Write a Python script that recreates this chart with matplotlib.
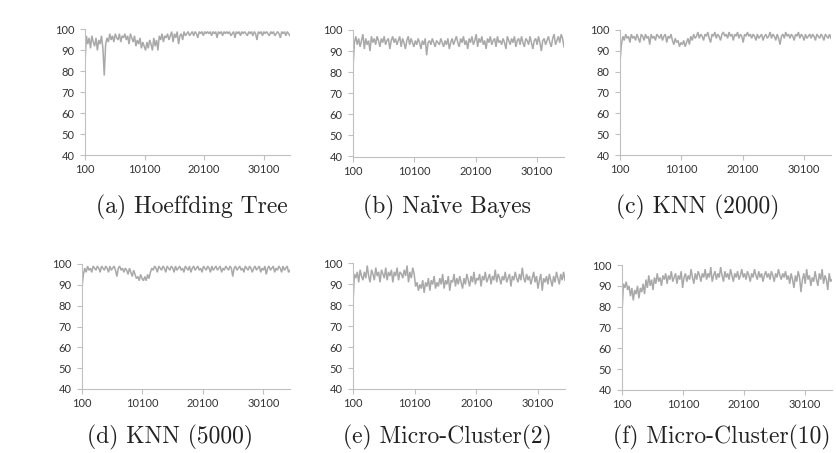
import numpy as np
import matplotlib
matplotlib.use("Agg")
import matplotlib.pyplot as plt

# ---------------- data ----------------
x_start = 100
x_end = 34500
x_ticks = [100, 10100, 20100, 30100]
y_ticks = [40, 50, 60, 70, 80, 90, 100]

titles = ["(a) Hoeffding Tree", "(b) Na\u00efve Bayes", "(c) KNN (2000)",
          "(d) KNN (5000)", "(e) Micro-Cluster(2)", "(f) Micro-Cluster(10)"]

hoeffding = [84, 97, 93, 96, 91, 97, 94, 92, 96, 90, 95, 93, 97, 91, 78,
             93, 96, 94, 98, 95, 97, 94, 98, 96, 95, 98, 94, 97, 96, 98,
             95, 97, 93, 98, 96, 94, 97, 92, 95, 93, 96, 91, 94, 92, 90,
             94, 91, 95, 93, 90, 96, 92, 95, 90, 97, 95, 98, 94, 97, 96,
             98, 95, 97, 99, 94, 98, 96, 99, 93, 97, 98, 95, 99, 97, 98,
             99, 97, 98, 99, 97, 99, 98, 96, 99, 98, 99, 97, 99, 98, 99,
             98, 99, 97, 99, 98, 99, 96, 99, 98, 99, 97, 99, 98, 99, 98,
             99, 97, 98, 99, 96, 99, 98, 99, 97, 99, 98, 99, 98, 97, 99,
             98, 99, 97, 99, 98, 95, 99, 98, 99, 97, 99, 98, 99, 98, 97,
             99, 98, 99, 97, 98, 99, 98, 96, 99, 98, 99, 97, 99, 98, 97]

naive_bayes = [82, 94, 97, 93, 96, 92, 95, 98, 91, 96, 93, 95, 90, 97, 94,
               96, 93, 97, 95, 92, 96, 94, 97, 93, 95, 96, 91, 95, 97, 94,
               96, 93, 95, 97, 92, 96, 94, 91, 95, 97, 93, 96, 94, 92, 95,
               93, 96, 94, 91, 95, 93, 96, 88, 94, 95, 93, 96, 94, 92, 95,
               94, 93, 96, 94, 92, 95, 93, 96, 91, 94, 96, 93, 95, 97, 94,
               92, 96, 94, 97, 93, 95, 91, 96, 94, 97, 93, 95, 98, 92, 96,
               94, 97, 93, 95, 91, 96, 94, 97, 93, 95, 96, 92, 97, 94, 95,
               93, 96, 94, 91, 97, 95, 93, 96, 94, 97, 92, 95, 96, 93, 97,
               94, 92, 96, 95, 93, 97, 94, 91, 95, 96, 93, 97, 94, 90, 95,
               96, 93, 95, 97, 94, 92, 96, 98, 93, 95, 97, 94, 98, 96, 92]

knn_2000 = [85, 93, 97, 95, 98, 96, 97, 94, 98, 96, 97, 95, 98, 96, 94,
            98, 97, 95, 98, 96, 97, 93, 98, 96, 97, 95, 98, 97, 96, 98,
            95, 97, 98, 94, 97, 96, 98, 95, 93, 96, 94, 95, 92, 94, 93,
            95, 92, 94, 96, 93, 97, 95, 98, 96, 97, 99, 96, 98, 97, 95,
            98, 97, 99, 96, 94, 98, 97, 99, 96, 98, 97, 95, 98, 99, 97,
            98, 96, 99, 97, 98, 95, 98, 97, 99, 96, 98, 97, 94, 98, 97,
            99, 97, 98, 96, 98, 97, 95, 98, 96, 97, 98, 95, 97, 98, 96,
            97, 99, 96, 98, 97, 95, 98, 96, 93, 97, 98, 96, 99, 97, 98,
            96, 98, 97, 95, 98, 97, 99, 96, 98, 97, 95, 98, 96, 97, 98,
            96, 98, 97, 95, 98, 97, 96, 98, 97, 95, 98, 97, 96, 98, 96]

knn_5000 = [89, 95, 98, 96, 99, 97, 98, 96, 99, 98, 97, 99, 98, 96, 99,
            98, 97, 99, 98, 96, 99, 97, 98, 99, 97, 94, 98, 99, 97, 98,
            96, 98, 97, 95, 98, 96, 94, 97, 95, 93, 94, 92, 95, 93, 92,
            94, 92, 95, 93, 96, 98, 97, 99, 98, 96, 99, 98, 97, 99, 98,
            96, 99, 98, 97, 99, 98, 96, 99, 97, 98, 99, 97, 98, 96, 99,
            98, 97, 99, 96, 98, 99, 97, 98, 99, 97, 98, 96, 99, 98, 97,
            99, 98, 96, 99, 97, 98, 99, 97, 98, 99, 96, 98, 97, 99, 98,
            97, 99, 98, 94, 98, 99, 97, 98, 99, 97, 98, 96, 99, 98, 97,
            99, 98, 96, 98, 99, 97, 98, 99, 96, 98, 97, 99, 95, 98, 99,
            97, 98, 99, 96, 98, 97, 99, 98, 96, 99, 97, 98, 99, 96, 97]

micro_cluster_2 = [81, 95, 93, 96, 91, 97, 94, 92, 96, 93, 99, 94, 91, 97, 95,
                   92, 98, 94, 96, 91, 97, 95, 93, 98, 92, 96, 94, 97, 91, 96,
                   94, 98, 92, 96, 95, 93, 97, 94, 99, 91, 96, 93, 98, 95, 89,
                   91, 87, 90, 88, 92, 86, 91, 89, 93, 87, 92, 90, 94, 88, 91,
                   89, 93, 90, 95, 88, 92, 90, 94, 87, 92, 91, 95, 89, 93, 90,
                   94, 91, 88, 93, 90, 95, 92, 89, 94, 91, 96, 90, 93, 92, 95,
                   89, 94, 92, 96, 91, 93, 95, 90, 94, 92, 97, 91, 95, 93, 90,
                   94, 92, 96, 91, 93, 95, 89, 94, 92, 96, 93, 91, 95, 92, 98,
                   93, 91, 95, 92, 94, 90, 93, 96, 91, 94, 88, 92, 95, 87, 93,
                   91, 94, 90, 95, 92, 89, 94, 91, 96, 93, 90, 95, 92, 96, 92]

micro_cluster_10 = [77, 91, 89, 92, 88, 90, 85, 89, 83, 88, 86, 90, 84, 89, 87,
                    91, 86, 93, 89, 95, 90, 93, 88, 94, 91, 96, 92, 94, 90, 95,
                    93, 96, 91, 95, 93, 97, 92, 94, 96, 91, 95, 93, 97, 89, 94,
                    96, 92, 95, 93, 98, 94, 91, 96, 93, 97, 95, 92, 96, 94, 98,
                    93, 96, 94, 99, 92, 95, 97, 93, 96, 94, 99, 95, 92, 97, 94,
                    96, 93, 98, 95, 92, 96, 94, 97, 93, 95, 98, 94, 96, 93, 97,
                    95, 92, 96, 94, 98, 95, 93, 97, 94, 96, 92, 95, 97, 94, 96,
                    93, 97, 95, 92, 96, 94, 98, 95, 93, 96, 94, 97, 93, 95, 91,
                    96, 93, 89, 95, 92, 97, 94, 87, 93, 96, 91, 98, 93, 95, 90,
                    94, 92, 97, 93, 90, 96, 93, 98, 91, 95, 93, 88, 96, 92, 93]

series = [hoeffding, naive_bayes, knn_2000, knn_5000, micro_cluster_2, micro_cluster_10]

# ---------------- layout ----------------
W, H = 836, 453
# axes boxes in pixels: left, right, top, bottom
boxes = [(85, 290, 29.5, 155), (353, 564, 30, 156.5), (620, 831, 30, 155),
         (82, 290, 264, 389), (353, 565, 263.5, 389), (622, 832, 265, 390)]
caption_xy = [(192, 207), (447, 207), (698, 207), (170, 437), (447, 437), (722, 437)]

fig = plt.figure(figsize=(W / 100, H / 100), dpi=100)
fig.patch.set_facecolor("white")

axis_col = "#c0c0c0"
line_col = "#a9a9a9"
label_col = "#333333"

for (l, r, t, b), vals, title, (cx, cy) in zip(boxes, series, titles, caption_xy):
    ax = fig.add_axes([l / W, 1 - b / H, (r - l) / W, (b - t) / H])
    xs = np.linspace(x_start, x_end, len(vals))
    ax.plot(xs, vals, color=line_col, lw=1.1, solid_joinstyle="miter")
    ax.set_xlim(x_start, x_end)
    ax.set_ylim(40, 100)
    ax.set_xticks(x_ticks)
    ax.set_yticks(y_ticks)
    ax.set_xticklabels([str(v) for v in x_ticks])
    ax.set_yticklabels([str(v) for v in y_ticks])
    for s in ["top", "right"]:
        ax.spines[s].set_visible(False)
    for s in ["left", "bottom"]:
        ax.spines[s].set_color(axis_col)
        ax.spines[s].set_linewidth(0.8)
    ax.tick_params(axis="both", direction="out", length=3.5, width=0.8, color=axis_col,
                   labelsize=8, labelcolor=label_col)
    ax.tick_params(axis="y", pad=4)
    ax.tick_params(axis="x", pad=3)
    for lab in ax.get_xticklabels() + ax.get_yticklabels():
        lab.set_family(["Lato", "DejaVu Sans"])
    fig.text(cx / W, 1 - cy / H, title, ha="center", va="center",
             fontsize=17, family=["cmr10", "DejaVu Serif"], color="#222222")

fig.savefig("out.png", dpi=100, facecolor="white")
